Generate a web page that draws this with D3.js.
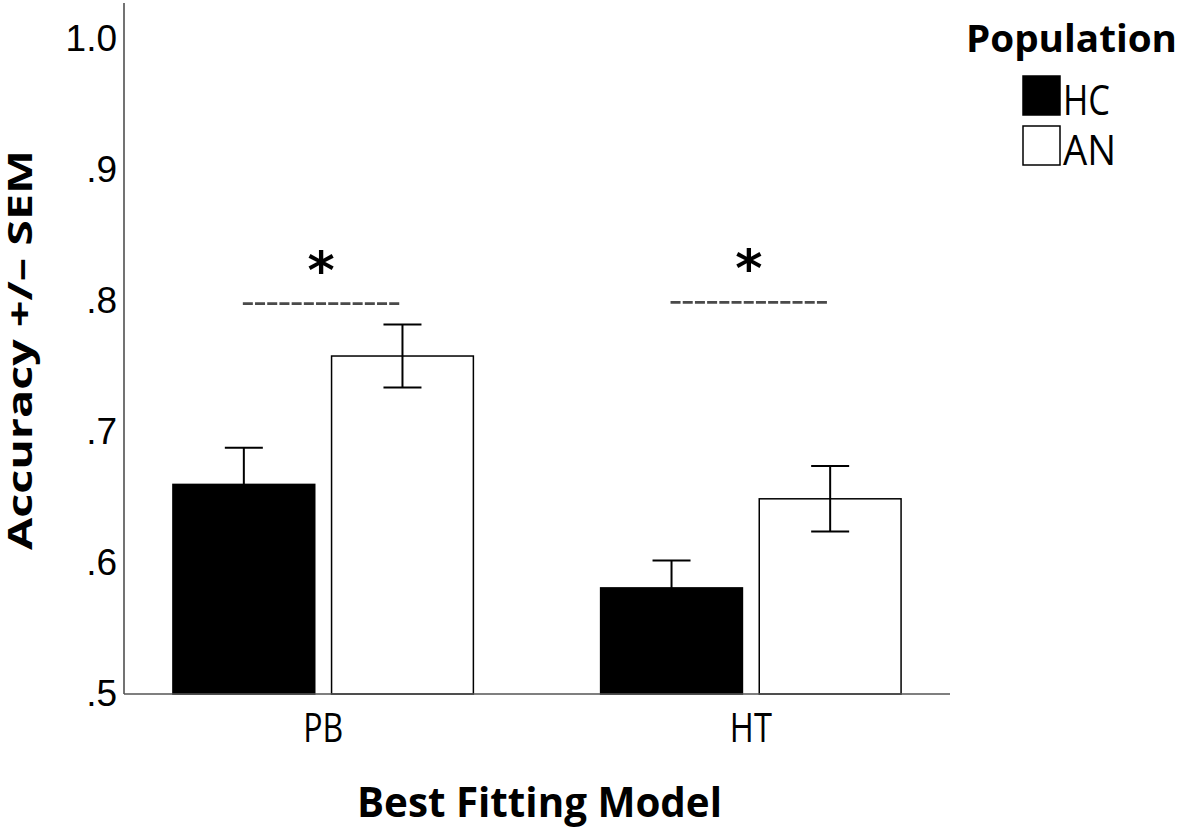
<!DOCTYPE html>
<html>
<head>
<meta charset="utf-8">
<script src="https://cdn.jsdelivr.net/npm/d3@7"></script>
<style>
  html, body { margin: 0; padding: 0; background: #fff; }
  svg { display: block; }
</style>
</head>
<body>
<svg id="chart" width="1181" height="829"></svg>
<script>
// ---- data ----
const categories = ["PB", "HT"];
const populations = ["HC", "AN"];
const hcMeans = [0.660, 0.581];
const anMeans = [0.758, 0.649];
const hcSem = [0.028, 0.021];
const anSem = [0.024, 0.025];
const sigLevels = [0.798, 0.799];
const sigMarks = ["*", "*"];
const yTickValues = [0.5, 0.6, 0.7, 0.8, 0.9, 1.0];
const yTickLabels = [".5", ".6", ".7", ".8", ".9", "1.0"];
const yAxisTop = 1.0275;
const xTitle = "Best Fitting Model";
const yTitle = "Accuracy +/\u2013 SEM";
const legendTitle = "Population";

// ---- layout ----
const svg = d3.select("#chart");
const left = 124, right = 950, bottom = 694, top1 = 39;

const y = d3.scaleLinear().domain([0.5, 1.0]).range([bottom, top1]);
const x0 = d3.scaleBand().domain(categories).range([left, right])
  .paddingInner(0.2975).paddingOuter(0.1144);
const x1 = d3.scaleBand().domain(populations).range([0, x0.bandwidth()])
  .paddingInner(0.106);

const rows = [];
categories.forEach((c, i) => {
  rows.push({cat: c, pop: "HC", mean: hcMeans[i], sem: hcSem[i]});
  rows.push({cat: c, pop: "AN", mean: anMeans[i], sem: anSem[i]});
});
const fill = {HC: "#000", AN: "#fff"};

// bars
svg.append("g").selectAll("rect").data(rows).join("rect")
  .attr("x", d => x0(d.cat) + x1(d.pop))
  .attr("y", d => y(d.mean))
  .attr("width", x1.bandwidth())
  .attr("height", d => y(0.5) - y(d.mean))
  .attr("fill", d => fill[d.pop])
  .attr("stroke", "#000")
  .attr("stroke-width", 1.5);

// error bars
const capW = 38;
const eb = svg.append("g").attr("stroke", "#000").attr("stroke-width", 2);
rows.forEach(d => {
  const cx = x0(d.cat) + x1(d.pop) + x1.bandwidth() / 2;
  eb.append("line").attr("x1", cx).attr("x2", cx)
    .attr("y1", y(d.mean + d.sem)).attr("y2", y(d.mean - d.sem));
  eb.append("line").attr("x1", cx - capW / 2).attr("x2", cx + capW / 2)
    .attr("y1", y(d.mean + d.sem)).attr("y2", y(d.mean + d.sem));
  eb.append("line").attr("x1", cx - capW / 2).attr("x2", cx + capW / 2)
    .attr("y1", y(d.mean - d.sem)).attr("y2", y(d.mean - d.sem));
});

// significance brackets
categories.forEach((c, i) => {
  const xa = x0(c) + x1("HC") + x1.bandwidth() / 2 - 1;
  const xb = x0(c) + x1("AN") + x1.bandwidth() / 2 - 3;
  svg.append("line")
    .attr("x1", xa).attr("x2", xb)
    .attr("y1", y(sigLevels[i])).attr("y2", y(sigLevels[i]))
    .attr("stroke", "#4a4a4a").attr("stroke-width", 2.8)
    .attr("stroke-dasharray", "10,2.2");
  svg.append("text")
    .attr("x", (xa + xb) / 2)
    .attr("y", y(sigLevels[i]) - 16)
    .attr("text-anchor", "middle")
    .attr("font-family", "DejaVu Sans")
    .attr("font-weight", "bold")
    .attr("font-size", 52)
    .attr("fill", "#000")
    .text(sigMarks[i]);
});

// axes lines
const yExt = d3.scaleLinear().domain([0.5, yAxisTop]).range([bottom, y(yAxisTop)]);
const yAxis = svg.append("g").attr("transform", `translate(${left},0)`)
  .call(d3.axisLeft(y).tickValues(yTickValues)
    .tickFormat((d, i) => yTickLabels[i]).tickSize(0).tickPadding(7));
yAxis.select(".domain").remove();
yAxis.selectAll("text")
  .attr("font-family", "Liberation Sans, Arial, sans-serif")
  .attr("font-size", 37).attr("fill", "#000");
svg.append("line").attr("x1", left).attr("x2", left)
  .attr("y1", yExt.range()[1]).attr("y2", bottom)
  .attr("stroke", "#444").attr("stroke-width", 1.5);
svg.append("line").attr("x1", left).attr("x2", right)
  .attr("y1", bottom).attr("y2", bottom)
  .attr("stroke", "#555").attr("stroke-width", 1.5);

// category labels
const catW = {PB: 40, HT: 42};
const xAxis = svg.append("g").attr("transform", `translate(0,${bottom})`)
  .call(d3.axisBottom(x0).tickSize(0).tickPadding(0));
xAxis.select(".domain").remove();
xAxis.selectAll("text")
  .attr("y", 48).attr("dy", null)
  .attr("font-family", "Open Sans, sans-serif")
  .attr("font-size", 40).attr("fill", "#000")
  .attr("textLength", d => catW[d]).attr("lengthAdjust", "spacingAndGlyphs");

// axis titles
svg.append("text")
  .attr("x", 539.5).attr("y", 817)
  .attr("text-anchor", "middle")
  .attr("font-family", "Open Sans, sans-serif").attr("font-weight", "bold")
  .attr("font-size", 42).attr("fill", "#000")
  .attr("textLength", 365).attr("lengthAdjust", "spacingAndGlyphs")
  .text(xTitle);

svg.append("text")
  .attr("transform", "translate(32,350) rotate(-90)")
  .attr("text-anchor", "middle")
  .attr("font-family", "Open Sans, sans-serif").attr("font-weight", "bold")
  .attr("font-size", 34).attr("fill", "#000")
  .attr("textLength", 400).attr("lengthAdjust", "spacingAndGlyphs")
  .text(yTitle);

// legend
const lg = svg.append("g");
lg.append("text").attr("x", 966).attr("y", 52)
  .attr("font-family", "Open Sans, sans-serif").attr("font-weight", "bold")
  .attr("font-size", 38).attr("fill", "#000")
  .attr("textLength", 211).attr("lengthAdjust", "spacingAndGlyphs")
  .text(legendTitle);
const legW = {HC: 47, AN: 53};
populations.forEach((p, i) => {
  const yy = 76 + i * 50;
  lg.append("rect").attr("x", 1023).attr("y", yy)
    .attr("width", 37).attr("height", 39)
    .attr("fill", fill[p]).attr("stroke", "#000").attr("stroke-width", 1.5);
  lg.append("text").attr("x", 1063).attr("y", yy + 39)
    .attr("font-family", "Open Sans, sans-serif")
    .attr("font-size", 42).attr("fill", "#000")
    .attr("textLength", legW[p]).attr("lengthAdjust", "spacingAndGlyphs")
    .text(p);
});
</script>
</body>
</html>
